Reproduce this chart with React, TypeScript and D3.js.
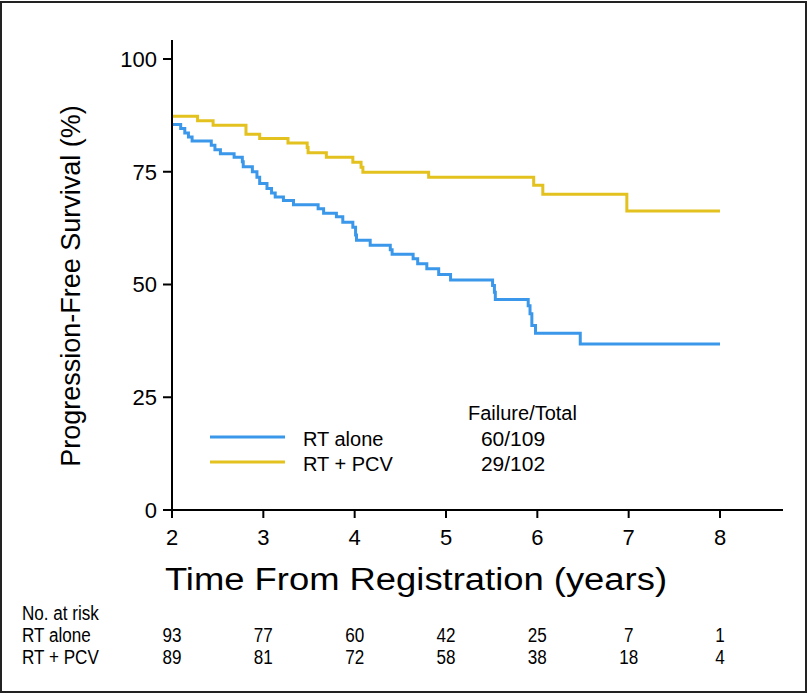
import React from "react";
import * as d3 from "d3";

const rtAloneTimes = [2, 2.095, 2.14, 2.18, 2.22, 2.43, 2.47, 2.53, 2.68, 2.77, 2.78, 2.88, 2.93, 2.96, 3.04, 3.09, 3.13, 3.22, 3.33, 3.6, 3.66, 3.8, 3.87, 3.98, 4.01, 4.02, 4.17, 4.39, 4.41, 4.64, 4.69, 4.79, 4.92, 5.05, 5.51, 5.53, 5.54, 5.9, 5.92, 5.94, 5.98, 6.47, 8.0];
const rtAloneSurv = [85.5, 84.6, 83.6, 82.7, 81.8, 80.9, 79.9, 79.0, 78.2, 77.2, 76.1, 75.0, 73.8, 72.4, 71.3, 70.3, 69.4, 68.6, 67.7, 66.8, 65.8, 65.0, 63.8, 62.7, 61.0, 59.8, 58.7, 57.7, 56.7, 55.7, 54.6, 53.5, 52.2, 51.0, 49.8, 48.3, 46.7, 45.3, 43.5, 40.9, 39.2, 36.8, 36.8];

const rtPcvTimes = [2, 2.28, 2.45, 2.81, 2.96, 3.27, 3.48, 3.49, 3.69, 3.98, 4.07, 4.09, 4.81, 5.96, 6.06, 6.98, 8.0];
const rtPcvSurv = [87.3, 86.3, 85.3, 83.3, 82.4, 81.4, 80.4, 79.2, 78.2, 77.1, 76.0, 74.9, 73.8, 72.0, 70.0, 66.3, 66.3];

const xTicks = [2, 3, 4, 5, 6, 7, 8];
const yTicks = [0, 25, 50, 75, 100];

const groupNames = ["RT alone", "RT + PCV"];
const groupFailures = ["60/109", "29/102"];
const groupColors = ["#3a97ea", "#e3c11f"];
const riskRtAlone = [93, 77, 60, 42, 25, 7, 1];
const riskRtPcv = [89, 81, 72, 58, 38, 18, 4];

const W = 809;
const H = 695;
const FONT = "'Liberation Sans', Arial, Helvetica, sans-serif";
const NARROW_SCALE = 0.9;

export default function App() {
  const x = d3.scaleLinear().domain([2, 8]).range([172, 720]);
  const y = d3.scaleLinear().domain([0, 100]).range([510, 59]);

  const line = d3
    .line<[number, number]>()
    .x((d) => x(d[0]))
    .y((d) => y(d[1]))
    .curve(d3.curveStepAfter);

  const series = [
    { times: rtAloneTimes, surv: rtAloneSurv, color: groupColors[0] },
    { times: rtPcvTimes, surv: rtPcvSurv, color: groupColors[1] },
  ];
  const risk = [riskRtAlone, riskRtPcv];

  const narrowText = (
    key: string | number,
    tx: number,
    ty: number,
    content: React.ReactNode,
    anchor: "start" | "middle" = "start"
  ) => (
    <text
      key={key}
      transform={`translate(${tx},${ty}) scale(${NARROW_SCALE},1.08)`}
      textAnchor={anchor}
      fontFamily={FONT}
      fontSize={19}
      fill="#000"
    >
      {content}
    </text>
  );

  return (
    <svg
      width={W}
      height={H}
      style={{ position: "absolute", left: 0, top: 0, background: "#fff" }}
    >
      <rect x={1} y={2} width={805} height={690} fill="#fff" stroke="#222" strokeWidth={2} />

      {/* curves */}
      {series.map((s, i) => (
        <path
          key={i}
          d={line(s.times.map((t, j) => [t, s.surv[j]] as [number, number])) || ""}
          fill="none"
          stroke={s.color}
          strokeWidth={3}
        />
      ))}

      {/* axes */}
      <line x1={172} x2={172} y1={40} y2={510} stroke="#000" strokeWidth={2} />
      <line x1={171} x2={783} y1={510} y2={510} stroke="#000" strokeWidth={2} />
      {yTicks.map((t) => (
        <g key={t}>
          <line x1={163} x2={172} y1={y(t)} y2={y(t)} stroke="#000" strokeWidth={2} />
          <text
            x={157}
            y={y(t)}
            dy="0.36em"
            textAnchor="end"
            fontFamily={FONT}
            fontSize={22}
            fill="#000"
          >
            {t}
          </text>
        </g>
      ))}
      {xTicks.map((t) => (
        <g key={t}>
          <line x1={x(t)} x2={x(t)} y1={510} y2={518} stroke="#000" strokeWidth={2} />
          <text x={x(t)} y={545} textAnchor="middle" fontFamily={FONT} fontSize={22} fill="#000">
            {t}
          </text>
        </g>
      ))}

      <text
        transform="translate(80,286) rotate(-90)"
        textAnchor="middle"
        fontFamily={FONT}
        fontSize={27}
        fill="#000"
      >
        Progression-Free Survival (%)
      </text>
      <text
        x={165}
        y={590}
        fontFamily={FONT}
        fontSize={31}
        fill="#000"
        textLength={502}
        lengthAdjust="spacingAndGlyphs"
      >
        Time From Registration (years)
      </text>

      {/* legend */}
      <text x={468} y={420} fontFamily={FONT} fontSize={20} fill="#000">
        Failure/Total
      </text>
      {groupNames.map((g, i) => (
        <g key={g}>
          <line
            x1={210}
            x2={285}
            y1={437 + i * 25}
            y2={437 + i * 25}
            stroke={groupColors[i]}
            strokeWidth={3}
          />
          <text x={303} y={446 + i * 25} fontFamily={FONT} fontSize={20} fill="#000">
            {g}
          </text>
          <text x={513} y={446 + i * 25} textAnchor="middle" fontFamily={FONT} fontSize={21} fill="#000">
            {groupFailures[i]}
          </text>
        </g>
      ))}

      {/* risk table */}
      {narrowText("hdr", 22, 620, "No. at risk")}
      {groupNames.map((g, i) => (
        <g key={g}>
          {narrowText("lbl", 22, 642 + i * 22, g)}
          {risk[i].map((n, j) => narrowText(j, x(xTicks[j]), 642 + i * 22, n, "middle"))}
        </g>
      ))}
    </svg>
  );
}
